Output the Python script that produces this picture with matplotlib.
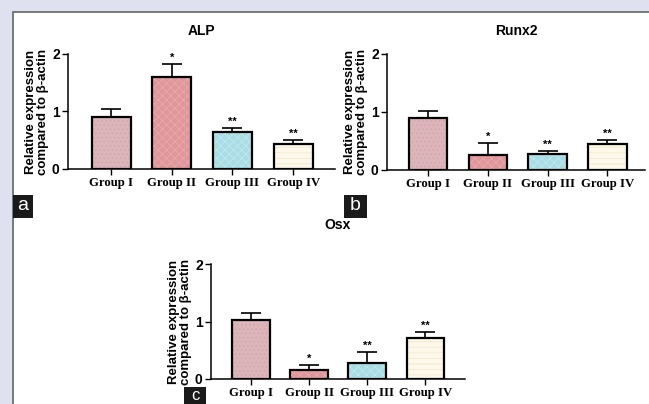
import numpy as np
import matplotlib.pyplot as plt
from matplotlib.patches import Rectangle

W, H = 649, 404

groups = ["Group I", "Group II", "Group III", "Group IV"]

alp_mean = [0.91, 1.60, 0.64, 0.43]
alp_top = [1.04, 1.82, 0.72, 0.50]
alp_stars = ["", "*", "**", "**"]

runx2_mean = [0.90, 0.25, 0.28, 0.44]
runx2_top = [1.01, 0.46, 0.33, 0.52]
runx2_stars = ["", "*", "**", "**"]

osx_mean = [1.02, 0.15, 0.28, 0.72]
osx_top = [1.14, 0.24, 0.47, 0.82]
osx_stars = ["", "*", "**", "**"]

fill_colors = ["#dcb5ba", "#e0979b", "#a8dde5", "#fdf8ea"]
hatch_colors = ["#cfa2a8", "#eaacaf", "#c4e9ee", "#efe5c9"]
hatches = ["....", "xxxx", "xxxx", "---"]

plt.rcParams["hatch.linewidth"] = 0.5


def px_axes(fig, left, right, y0, y2):
    # y0 = pixel row of value 0, y2 = pixel row of value 2
    return fig.add_axes([left / W, 1 - y0 / H, (right - left) / W, (y0 - y2) / H])


def panel(ax, title, means, tops, stars, xlim, width, title_pad=14):
    x = np.arange(len(groups))
    ax.bar(x, means, width=width, color=fill_colors, linewidth=0, zorder=1)
    for xi, m, hc, hp in zip(x, means, hatch_colors, hatches):
        ax.bar(xi, m, width=width, color="none", edgecolor=hc, hatch=hp,
               linewidth=0, zorder=2)
    ax.bar(x, means, width=width, color="none", edgecolor="black",
           linewidth=1.6, zorder=3)
    up = np.array(tops) - np.array(means)
    ax.errorbar(x, means, yerr=[np.zeros_like(up), up], fmt="none",
                ecolor="black", elinewidth=1.2, capsize=7, capthick=1.2, zorder=2)
    for xi, t, s in zip(x, tops, stars):
        if s:
            ax.text(xi, t + 0.02, s, ha="center", va="bottom", fontsize=8,
                    fontweight="bold", family="Liberation Sans")
    ax.set_ylim(0, 2)
    ax.set_xlim(*xlim)
    ax.set_yticks([0, 1, 2])
    ax.set_xticks(x)
    ax.set_xticklabels(groups, family="Liberation Serif", fontweight="bold",
                       fontsize=9.2)
    for lab in ax.get_yticklabels():
        lab.set_family("Liberation Sans")
        lab.set_fontweight("bold")
        lab.set_fontsize(10)
    ax.tick_params(length=4, width=1.0, pad=2)
    ax.spines[["top", "right"]].set_visible(False)
    for sp in ["left", "bottom"]:
        ax.spines[sp].set_linewidth(1.1)
    ax.patch.set_visible(False)
    ax.set_ylabel("Relative expression\ncompared to β-actin", family="Liberation Sans",
                  fontweight="bold", fontsize=9.5, linespacing=1.0, labelpad=2)
    ax.set_title(title, family="Liberation Sans", fontweight="bold", fontsize=10,
                 pad=title_pad)


fig = plt.figure(figsize=(W / 100, H / 100), dpi=100)
fig.patch.set_facecolor("#dfe1f0")
# white sheet behind the panels
fig.patches.append(Rectangle((13 / W, -0.1), 1, 1.1 - 12 / H, transform=fig.transFigure,
                             facecolor="white", edgecolor="#6f6f6f", linewidth=1.3,
                             zorder=-10))

ax_a = px_axes(fig, 68, 335, 169, 54)
panel(ax_a, "ALP", alp_mean, alp_top, alp_stars, (-0.71, 3.69), 0.64)

ax_b = px_axes(fig, 387, 645, 170, 54)
panel(ax_b, "Runx2", runx2_mean, runx2_top, runx2_stars, (-0.69, 3.63), 0.645)

ax_c = px_axes(fig, 211, 465, 379, 264)
panel(ax_c, "Osx", osx_mean, osx_top, osx_stars, (-0.69, 3.68), 0.65, title_pad=25)

# panel letters
for letter, (x0, x1, y0, y1), ty in zip("abc", [(13, 33, 195, 218), (344, 367, 195, 218),
                                                 (184, 206, 387, 410)], [206, 206, 395]):
    fig.patches.append(Rectangle((x0 / W, 1 - y1 / H), (x1 - x0) / W, (y1 - y0) / H,
                                 transform=fig.transFigure, facecolor="#1a1a1a",
                                 edgecolor="none", zorder=5))
    fig.text((x0 + x1) / 2 / W, 1 - ty / H, letter, color="white",
             fontsize=14 if letter != "c" else 12, ha="center", va="center",
             family="Liberation Sans", zorder=6)

fig.savefig("out.png", dpi=100, facecolor=fig.get_facecolor())
